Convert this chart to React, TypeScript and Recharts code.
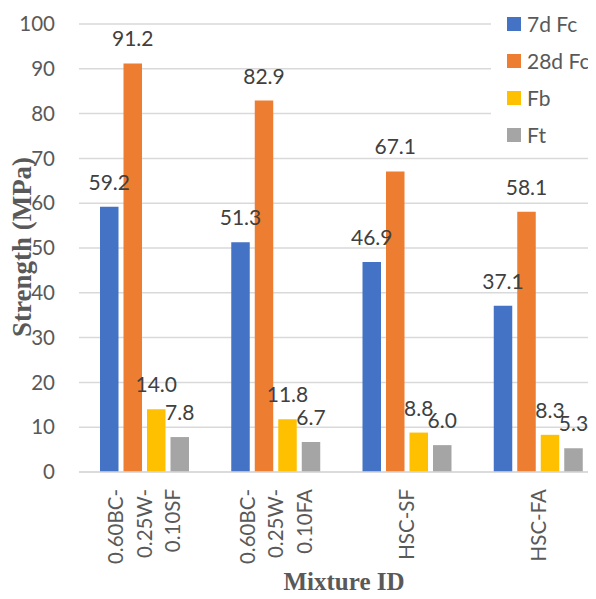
import {
  BarChart, Bar, XAxis, YAxis, CartesianGrid, Legend, LabelList,
} from 'recharts';

const mixtures = ['0.60BC-0.25W-0.10SF', '0.60BC-0.25W-0.10FA', 'HSC-SF', 'HSC-FA'];
const fc7 = [59.2, 51.3, 46.9, 37.1];
const fc28 = [91.2, 82.9, 67.1, 58.1];
const fb = [14.0, 11.8, 8.8, 8.3];
const ft = [7.8, 6.7, 6.0, 5.3];
const yTicks = [0, 10, 20, 30, 40, 50, 60, 70, 80, 90, 100];

const series = [
  { key: 'fc7', name: '7d Fc', color: '#4472C4' },
  { key: 'fc28', name: '28d Fc', color: '#ED7D31' },
  { key: 'fb', name: 'Fb', color: '#FFC000' },
  { key: 'ft', name: 'Ft', color: '#A5A5A5' },
];

const data = mixtures.map((m, i) => ({
  mixture: m,
  fc7: fc7[i],
  fc28: fc28[i],
  fb: fb[i],
  ft: ft[i],
}));

const FONT = 'Lato, "Open Sans", sans-serif';
const SERIF = '"Liberation Serif", "DejaVu Serif", serif';
const AXIS_GRAY = '#595959';
const GRID = '#D9D9D9';

// long mixture ids are broken after each hyphen, one rotated column per piece
function splitId(id: string): string[] {
  if (id.length <= 10) return [id];
  return id.split(/(?<=-)/);
}

function MixtureTick(props: any) {
  const { x, y, payload } = props;
  const lines = splitId(String(payload.value));
  const step = 28.5;
  return (
    <g>
      {lines.map((line, i) => {
        const cx = x + (i - (lines.length - 1) / 2) * step;
        return (
          <text
            key={i}
            x={cx}
            y={y}
            dy="0.35em"
            transform={`rotate(-90 ${cx} ${y})`}
            textAnchor="end"
            fontFamily={FONT}
            fontSize={20.5}
            fill={AXIS_GRAY}
          >
            {line}
          </text>
        );
      })}
    </g>
  );
}

// legend keeps the series order, stacked vertically
function LegendBox(props: any) {
  const { payload = [] } = props;
  const order = (p: any) => series.findIndex((s) => s.name === p.value);
  const items = [...payload].sort((a: any, b: any) => order(a) - order(b));
  return (
    <div>
      {items.map((p: any) => (
        <div
          key={p.value}
          style={{ display: 'flex', alignItems: 'center', height: 37 }}
        >
          <span
            style={{
              display: 'inline-block',
              width: 14,
              height: 14,
              background: p.color,
              marginLeft: 16,
              marginRight: 6,
            }}
          />
          <span style={{ fontFamily: FONT, fontSize: 21, color: AXIS_GRAY }}>{p.value}</span>
        </div>
      ))}
    </div>
  );
}

export default function App() {
  return (
    <div
      style={{
        margin: -8,
        width: 596,
        height: 599,
        overflow: 'hidden',
        position: 'relative',
        background: '#fff',
      }}
    >
      <BarChart
        width={604}
        height={599}
        data={data}
        margin={{ top: 24, right: 0, bottom: 0, left: 0 }}
        barSize={18.5}
        barGap={5}
      >
        <CartesianGrid vertical={false} stroke={GRID} strokeWidth={1.5} />
        <XAxis
          dataKey="mixture"
          height={127}
          tickLine={false}
          tickSize={0}
          tickMargin={17}
          axisLine={{ stroke: GRID, strokeWidth: 1.5 }}
          tick={<MixtureTick />}
          interval={0}
          label={() => (
            <text
              x={344}
              y={590}
              textAnchor="middle"
              fontFamily={SERIF}
              fontWeight="bold"
              fontSize={25}
              fill={AXIS_GRAY}
            >
              Mixture ID
            </text>
          )}
        />
        <YAxis
          width={79}
          domain={[0, 100]}
          ticks={yTicks}
          axisLine={false}
          tickLine={false}
          tickSize={0}
          tickMargin={24}
          tick={{ fontFamily: FONT, fontSize: 20.5, fill: AXIS_GRAY }}
          label={() => (
            <text
              x={22}
              y={247}
              transform="rotate(-90 22 247)"
              textAnchor="middle"
              dominantBaseline="central"
              fontFamily={SERIF}
              fontWeight="bold"
              fontSize={27}
              fill={AXIS_GRAY}
            >
              Strength (MPa)
            </text>
          )}
        />
        <Legend
          layout="horizontal"
          verticalAlign="middle"
          align="center"
          content={<LegendBox />}
          wrapperStyle={{
            top: 5,
            left: 491,
            width: 113,
            height: 148,
            background: '#fff',
          }}
        />
        {series.map((s) => (
          <Bar
            key={s.key}
            dataKey={s.key}
            name={s.name}
            fill={s.color}
            isAnimationActive={false}
          >
            <LabelList
              dataKey={s.key}
              position="top"
              offset={17}
              fill="#404040"
              fontFamily={FONT}
              fontSize={21}
              formatter={(v: any) => Number(v).toFixed(1)}
            />
          </Bar>
        ))}
      </BarChart>
    </div>
  );
}
